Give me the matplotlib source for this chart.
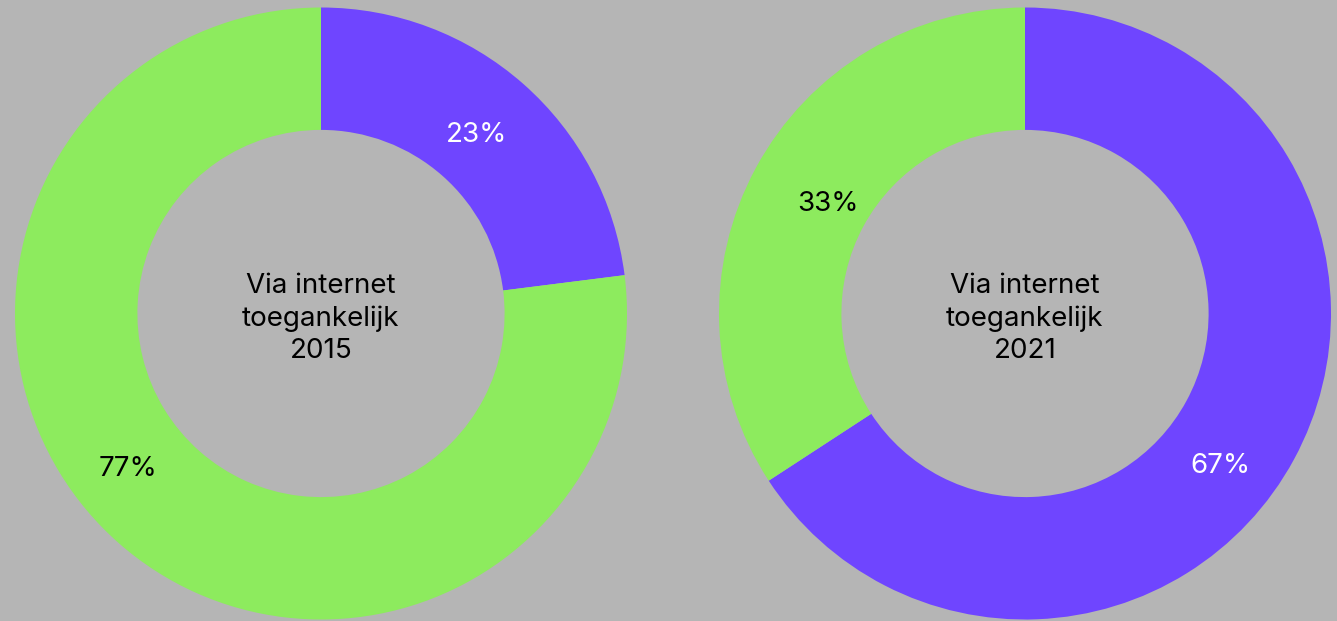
import numpy as np
import matplotlib.pyplot as plt

years = ["2015", "2021"]
categories = ["Via internet toegankelijk", "Niet via internet toegankelijk"]
share_2015 = [23, 77]
share_2021 = [65.8, 34.2]
pct_labels_2015 = ["23%", "77%"]
pct_labels_2021 = ["67%", "33%"]

purple = "#6F45FF"
green = "#8DEB5E"
bg = "#B5B5B5"

plt.rcParams['font.family'] = ['Inter', 'DejaVu Sans']

fig = plt.figure(figsize=(13.37, 6.21), dpi=100, facecolor=bg)

# axes placed so donuts are centred at (321, 313) and (1025, 313), radius ~306 px
W, H = 1337, 621
r = 306
centres = [(321, 313.5), (1025, 313.5)]
# label placement (angle clockwise from top in degrees, radius as fraction)
label_pos = [[(41, 0.775), (231, 0.81)], [(128, 0.81), (299, 0.735)]]

for (cx, cy), year, shares, pcts, lpos in zip(
        centres, years, [share_2015, share_2021],
        [pct_labels_2015, pct_labels_2021], label_pos):
    ax = fig.add_axes([(cx - r) / W, (H - cy - r) / H, 2 * r / W, 2 * r / H])
    ax.set_facecolor(bg)
    ax.pie(
        shares,
        colors=[purple, green],
        startangle=90,
        counterclock=False,
        radius=1.0,
        wedgeprops=dict(width=0.4, edgecolor='none', linewidth=0),
    )
    for txt, (ang, rad), col in zip(pcts, lpos, ['white', 'black']):
        a = np.deg2rad(90 - ang)
        ax.text(rad * np.cos(a), rad * np.sin(a), txt, ha='center', va='center',
                fontsize=20, color=col)
    ax.text(0, -0.017, "Via internet\ntoegankelijk\n" + year, ha='center', va='center',
            fontsize=20, color='black', linespacing=1.3)
    ax.set_xlim(-1, 1)
    ax.set_ylim(-1, 1)
    ax.set_aspect('equal')
    ax.axis('off')

fig.savefig("out.png", dpi=100, facecolor=bg)
